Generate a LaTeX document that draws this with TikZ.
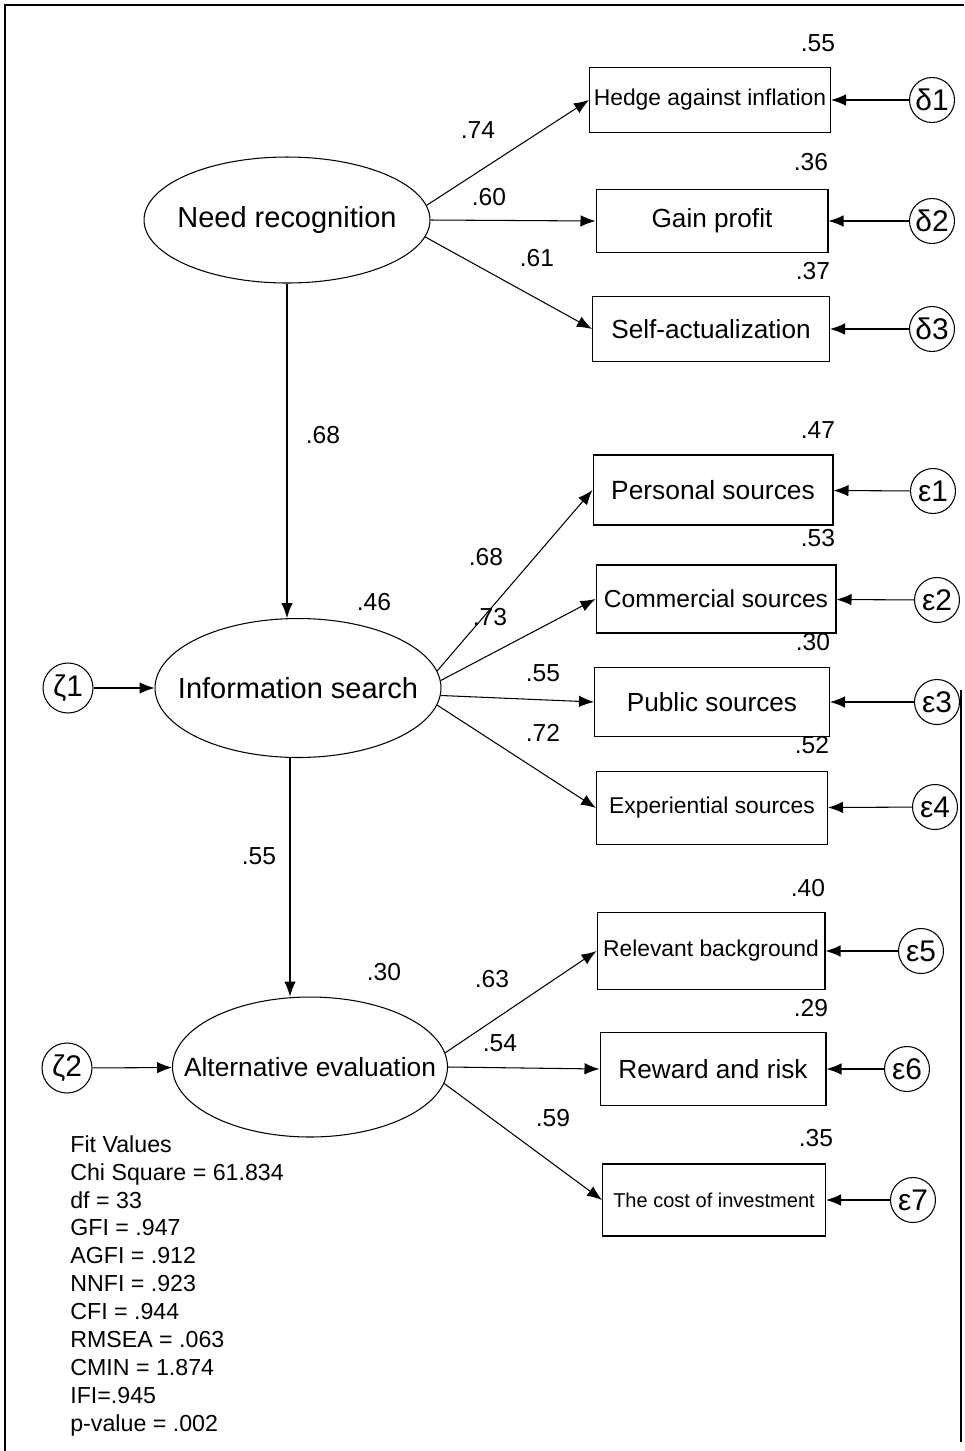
\documentclass[tikz,border=0pt]{standalone}
\usepackage{fontspec}
\setmainfont{Liberation Sans}
\usetikzlibrary{arrows.meta,shapes.geometric,positioning}

\begin{document}
\begin{tikzpicture}[x=0.02cm, y=-0.02cm, >={Latex[length=3mm,width=2.3mm]},
    latent/.style={draw, ellipse, line width=0.6pt, inner xsep=-0.6cm, inner ysep=0pt},
    indicator/.style={draw, rectangle, line width=0.6pt, inner sep=1pt},
    errterm/.style={draw, circle, line width=0.6pt, inner sep=0pt, minimum size=0.9cm, font=\fontsize{17}{18}\selectfont},
    coef/.style={inner sep=0pt, font=\fontsize{14}{16}\selectfont},
    link/.style={->, line width=0.6pt}]

    \useasboundingbox (0,0) rectangle (964,1451);
    \draw[line width=1.1pt] (5,1451) -- (5,5) -- (964,5);
    \draw[line width=1.1pt] (961,690) -- (961,1442);

    % === Latent constructs ===
    \node[latent, minimum width=5.72cm, minimum height=2.52cm, font=\fontsize{16.5}{18}\selectfont] (NR) at (287,220) {Need recognition};
    \node[latent, minimum width=5.72cm, minimum height=2.78cm, font=\fontsize{16.5}{18}\selectfont] (IS) at (298,688) {Information search};
    \node[latent, minimum width=5.5cm, minimum height=2.8cm, font=\fontsize{15}{18}\selectfont] (AE) at (310,1067) {Alternative evaluation};

    % === Need recognition indicators ===
    \node[indicator, minimum width=4.82cm, minimum height=1.3cm, font=\fontsize{13}{15}\selectfont] (HA) at (710,100) {Hedge against inflation};
    \node[indicator, minimum width=4.64cm, minimum height=1.26cm, font=\fontsize{14.9}{16}\selectfont] (GP) at (712,221) {Gain profit};
    \node[indicator, minimum width=4.74cm, minimum height=1.3cm, font=\fontsize{14.9}{16}\selectfont] (SA) at (711,329) {Self-actualization};

    % === Information search indicators ===
    \node[indicator, minimum width=4.8cm, minimum height=1.4cm, font=\fontsize{15}{16}\selectfont] (PS) at (713,490) {Personal sources};
    \node[indicator, minimum width=4.8cm, minimum height=1.36cm, font=\fontsize{14}{16}\selectfont] (CS) at (716,599) {Commercial sources};
    \node[indicator, minimum width=4.7cm, minimum height=1.38cm, font=\fontsize{14.9}{16}\selectfont] (PU) at (712,702) {Public sources};
    \node[indicator, minimum width=4.62cm, minimum height=1.46cm, font=\fontsize{13}{15}\selectfont] (ES) at (712,808) {Experiential sources};

    % === Alternative evaluation indicators ===
    \node[indicator, minimum width=4.56cm, minimum height=1.54cm, font=\fontsize{13}{15}\selectfont] (RB) at (711,951) {Relevant background};
    \node[indicator, minimum width=4.52cm, minimum height=1.46cm, font=\fontsize{14.9}{16}\selectfont] (RR) at (713,1069) {Reward and risk};
    \node[indicator, minimum width=4.46cm, minimum height=1.44cm, font=\fontsize{11.4}{14}\selectfont] (CI) at (714,1200) {The cost of investment};

    % === Error terms ===
    \node[errterm] (d1) at (932,100) {δ1};
    \node[errterm] (d2) at (932,221) {δ2};
    \node[errterm] (d3) at (932,329) {δ3};
    \node[errterm] (e1) at (933,491) {ε1};
    \node[errterm] (e2) at (937,600) {ε2};
    \node[errterm] (e3) at (937,702) {ε3};
    \node[errterm] (e4) at (935,807) {ε4};
    \node[errterm] (e5) at (921,951) {ε5};
    \node[errterm] (e6) at (907,1069) {ε6};
    \node[errterm] (e7) at (913,1200) {ε7};
    \node[errterm, minimum size=1cm] (z1) at (68,688) {ζ1};
    \node[errterm, minimum size=1cm] (z2) at (67,1068) {ζ2};

    % === Paths ===
    \draw[link] (NR.6) -- (HA.west);
    \draw[link] (NR.east) -- (GP.west);
    \draw[link] (NR.-7) -- (SA.west);
    \draw[link] (NR.south) -- (NR.south |- IS.north);
    \draw[link] (IS.7.5) -- (PS.west);
    \draw[link] (IS.3) -- (CS.west);
    \draw[link] (IS.-3.6) -- (PU.west);
    \draw[link] (IS.-7.8) -- (ES.west);
    \draw[link] (IS.south -| 290,0) -- (AE.north -| 290,0);
    \draw[link] (AE.6.4) -- (RB.west);
    \draw[link] (AE.east) -- (RR.west);
    \draw[link] (AE.-7.6) -- (CI.west);
    \draw[link] (z1) -- (IS);
    \draw[link] (z2) -- (AE);
    \foreach \e/\v in {d1/HA, d2/GP, d3/SA, e1/PS, e2/CS, e3/PU, e4/ES, e5/RB, e6/RR, e7/CI}
        \draw[link] (\e) -- (\v);

    % === Coefficients ===
    \node[coef] (rHA) at (818,43) {.55};
    \node[coef] (rGP) at (811,162) {.36};
    \node[coef] (rSA) at (813,271) {.37};
    \node[coef] (lHA) at (478,130) {.74};
    \node[coef] (lGP) at (489,197) {.60};
    \node[coef] (lSA) at (537,258) {.61};
    \node[coef] (bNR) at (323,435) {.68};
    \node[coef] (rPS) at (818,430) {.47};
    \node[coef] (rCS) at (818,538) {.53};
    \node[coef] (rPU) at (813,642) {.30};
    \node[coef] (rES) at (812,745) {.52};
    \node[coef] (lPS) at (486,557) {.68};
    \node[coef] (lCS) at (490,617) {.73};
    \node[coef] (lPU) at (543,673) {.55};
    \node[coef] (lES) at (543,733) {.72};
    \node[coef] (rIS) at (374,602) {.46};
    \node[coef] (bIS) at (259,856) {.55};
    \node[coef] (rRB) at (808,888) {.40};
    \node[coef] (rRR) at (811,1008) {.29};
    \node[coef] (rCI) at (816,1138) {.35};
    \node[coef] (rAE) at (384,972) {.30};
    \node[coef] (lRB) at (492,979) {.63};
    \node[coef] (lRR) at (500,1043) {.54};
    \node[coef] (lCI) at (553,1118) {.59};

    % === Fit values ===
    \node[anchor=north west, align=left, inner sep=0pt, font=\fontsize{13.2}{15.9}\selectfont] (fit) at (70,1135)
        {Fit Values\\Chi Square = 61.834\\df = 33\\GFI = .947\\AGFI = .912\\NNFI = .923\\CFI = .944\\RMSEA = .063\\CMIN = 1.874\\IFI=.945\\p-value = .002};

\end{tikzpicture}
\end{document}
